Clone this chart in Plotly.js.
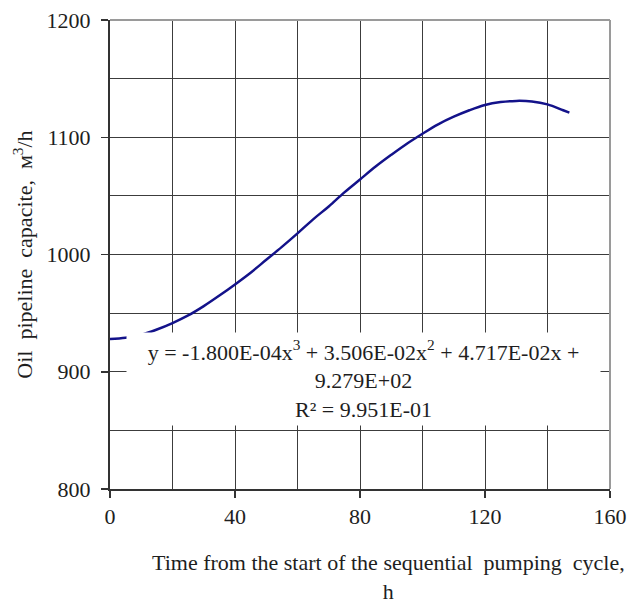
<!DOCTYPE html>
<html>
<head>
<meta charset="utf-8">
<script src="https://cdn.plot.ly/plotly-3.0.1.min.js"></script>
<style>html,body{margin:0;padding:0;background:#fff;}#chart{width:644px;height:605px;}</style>
</head>
<body>
<div id="chart"></div>
<script>
// Time from start of cycle, h
const timeH = [0, 5, 10, 15, 20, 25, 30, 35, 40, 45, 50, 55, 60, 65, 70, 75, 80, 85, 90, 95, 100, 105, 110, 115, 120, 125, 130, 135, 140, 145, 147];
// Oil pipeline capacity, m3/h
const capacity = [928, 929, 931.5, 936, 941.5, 948, 956, 965, 974.5, 984.5, 995.5, 1006.5, 1018, 1030, 1041, 1053, 1064, 1075, 1085, 1094.5, 1103, 1111, 1117.5, 1123, 1127.5, 1130, 1131, 1130.5, 1128, 1123, 1121];
const xTicks = [0, 40, 80, 120, 160];
const yTicks = [800, 900, 1000, 1100, 1200];
const eqLines = ["y = -1.800E-04x<sup>3</sup> + 3.506E-02x<sup>2</sup> + 4.717E-02x +", "9.279E+02", "R² = 9.951E-01"];
const xTitle = "Time from the start of the sequential  pumping  cycle,<br>h";
const yTitle = "Oil  pipeline  capacite,  м<sup>3</sup>/h";

const FONT = "Liberation Serif, Times New Roman, serif";
const GRID = "#3c3c3c";
const TXT = "#1e1e1e";

const trace = {
  x: timeH, y: capacity, type: "scatter", mode: "lines",
  line: {color: "#13128a", width: 2.5, shape: "spline"},
  hoverinfo: "skip"
};

const layout = {
  width: 644, height: 605,
  margin: {l: 110, r: 34, t: 20, b: 116},
  paper_bgcolor: "#fff", plot_bgcolor: "#fff",
  showlegend: false,
  font: {family: FONT, size: 22, color: TXT},
  xaxis: {
    range: [0, 160], tickvals: xTicks, ticktext: xTicks.map(String),
    ticks: "outside", ticklen: 7, tickwidth: 1.5, tickcolor: "#333",
    showline: true, linecolor: "#333", linewidth: 2,
    showgrid: true, gridcolor: GRID, gridwidth: 1,
    minor: {dtick: 20, tick0: 0, showgrid: true, gridcolor: GRID, gridwidth: 1, ticks: ""},
    zeroline: false, fixedrange: true,
    tickfont: {family: FONT, size: 22, color: TXT}
  },
  yaxis: {
    range: [800, 1200], tickvals: yTicks, ticktext: yTicks.map(String),
    ticks: "outside", ticklen: 7, tickwidth: 1.5, tickcolor: "#333",
    showline: true, linecolor: "#333", linewidth: 2,
    showgrid: true, gridcolor: GRID, gridwidth: 1,
    minor: {dtick: 50, tick0: 800, showgrid: true, gridcolor: GRID, gridwidth: 1, ticks: ""},
    zeroline: false, fixedrange: true,
    ticklabelstandoff: 6,
    tickfont: {family: FONT, size: 22, color: TXT},
    title: {text: yTitle, font: {family: FONT, size: 22, color: TXT}, standoff: 8}
  },
  shapes: [
    {type: "line", xref: "paper", yref: "paper", x0: 0, x1: 1, y0: 1, y1: 1, line: {color: "#9a9a9a", width: 2}},
    {type: "line", xref: "paper", yref: "paper", x0: 1, x1: 1, y0: 0, y1: 1, line: {color: "#9a9a9a", width: 2}}
  ],
  annotations: [
    {
      xref: "x", yref: "y", x: 81.1, y: 893.8,
      text: eqLines.join("<br>"), showarrow: false,
      bgcolor: "#fff", borderpad: 0, width: 473, height: 92,
      align: "center", valign: "middle",
      font: {family: FONT, size: 22, color: TXT}
    },
    {
      xref: "paper", yref: "paper", x: 0.556, y: -0.125, yanchor: "top",
      text: xTitle, showarrow: false, align: "center",
      font: {family: FONT, size: 22, color: TXT}
    }
  ]
};

Plotly.newPlot("chart", [trace], layout, {displayModeBar: false, staticPlot: true});
</script>
</body>
</html>
